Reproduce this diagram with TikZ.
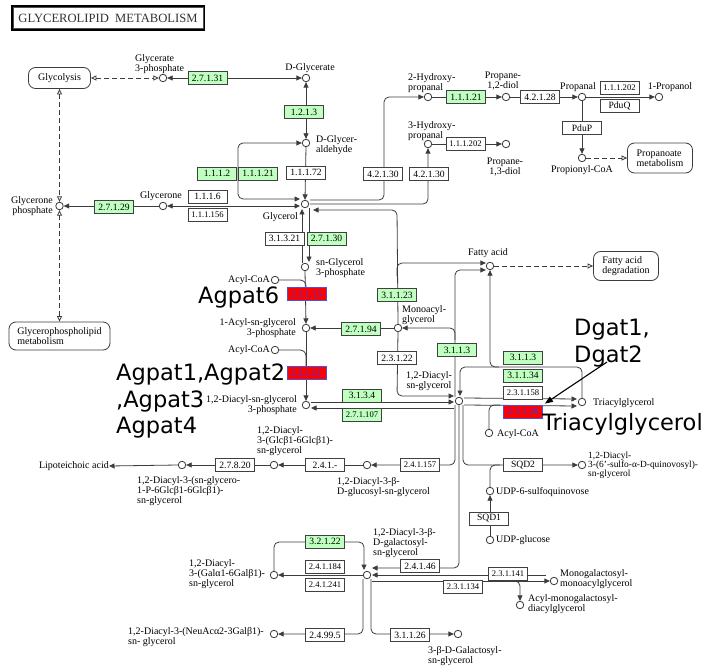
\documentclass[tikz,border=0pt]{standalone}
\usepackage{fontspec}
\setmainfont{Liberation Serif}
\newfontfamily\biglabel{DejaVu Sans}
\usetikzlibrary{arrows.meta,calc}
\definecolor{linec}{HTML}{3C3C3C}
\definecolor{boxc}{HTML}{404040}
\definecolor{kgreen}{HTML}{BFFFBF}
\definecolor{kred}{HTML}{FF0000}
\definecolor{kblue}{HTML}{5050E0}
\definecolor{ktext}{HTML}{3A3AE8}
\newcommand\labfont{\fontsize{10}{9}\selectfont}
\newcommand\labsmall{\fontsize{9.4}{9}\selectfont}
\newcommand\enzfont{\fontsize{9.6}{10}\selectfont}
\newcommand\enzsmall{\fontsize{8.6}{10}\selectfont}
\newcommand\kbigfont{\biglabel\fontsize{22.5}{26.5}\selectfont}
\newcommand\titlefont{\fontsize{12.6}{14}\selectfont}
\begin{document}
\begin{tikzpicture}[x=1pt,y=-1pt,
  kt/.tip={Triangle[length=5.5pt,width=5pt]},
  kto/.tip={Triangle[open,length=5.5pt,width=5pt]},
  ln/.style={draw=linec, line width=0.8pt},
  arr/.style={ln, -{kt}},
  arrtwo/.style={ln, {kt}-{kt}},
  dshtwo/.style={draw=linec, line width=0.8pt, dash pattern=on 5pt off 3pt, {kto}-{kto}},
  dshone/.style={draw=linec, line width=0.8pt, dash pattern=on 5pt off 3pt, -{kto}},
  cpd/.style={circle, draw=linec, fill=white, line width=0.8pt, minimum size=7.5pt, inner sep=0pt},
  enz/.style={draw=boxc, fill=white, line width=0.8pt, minimum width=39pt, minimum height=13pt, inner sep=0pt, font=\enzfont},
  gen/.style={enz, fill=kgreen},
  hit/.style={enz, fill=kred, draw=kblue, text=ktext},
  tight/.style={font=\enzsmall},
  lab/.style={inner sep=0pt, font=\labfont, align=left},
  pbox/.style={draw=linec, line width=0.8pt, rounded corners=7pt, fill=white, inner sep=0pt, font=\labfont, align=left},
  big/.style={inner sep=0pt, font=\kbigfont}]
\useasboundingbox (0,0) rectangle (703,668);
\fill[white] (0,0) rectangle (703,668);

% ---------- title ----------
\node[draw=black, line width=1.5pt, minimum width=192pt, minimum height=24pt, inner sep=0pt, font=\titlefont, text=black!80] (title) at (108,18) {GLYCEROLIPID\ \ METABOLISM};
\draw[black!70, line width=0.5pt] ($(title.south west)+(2,-2)$) rectangle ($(title.north east)+(-2,2)$);

% ---------- pathway boxes ----------
\node[pbox, minimum width=62pt, minimum height=21pt] (glycolysis) at (59.5,78) {Glycolysis};
\node[pbox, minimum width=101pt, minimum height=28pt] (gpl) at (59.5,336) {Glycerophospholipid\\metabolism};
\node[pbox, minimum width=65pt, minimum height=30pt] (propmet) at (660,158) {Propanoate\\metabolism};
\node[pbox, minimum width=65pt, minimum height=29pt] (fadeg) at (626,266) {Fatty acid\\degradation};

% ---------- compounds ----------
\node[cpd] (g3pa) at (163,78) {};
\node[cpd] (dglyc) at (306,78) {};
\node[cpd] (dglyald) at (306,143) {};
\node[cpd] (glyol) at (305,204) {};
\node[cpd] (glycerone) at (163,206) {};
\node[cpd] (dhap) at (59.5,206) {};
\node[cpd] (hpa2) at (428,97) {};
\node[cpd] (pd12) at (506,97) {};
\node[cpd] (propanal) at (582,97) {};
\node[cpd] (propanol) at (659,97) {};
\node[cpd] (propcoa) at (582,158) {};
\node[cpd] (hpa3) at (428,144) {};
\node[cpd] (pd13) at (506,144) {};
\node[cpd] (g3p) at (305,267) {};
\node[cpd] (acoa1) at (275,280) {};
\node[cpd] (lpa) at (306,328) {};
\node[cpd] (acoa2) at (275,350) {};
\node[cpd] (pa) at (306,405) {};
\node[cpd] (mag) at (398,328) {};
\node[cpd] (fa) at (490,266) {};
\node[cpd] (dag) at (459,401) {};
\node[cpd] (tag) at (582,402) {};
\node[cpd] (acoa3) at (489,433) {};
\node[cpd] (glcdag) at (367,465) {};
\node[cpd] (glc2dag) at (274,465) {};
\node[cpd] (ltap) at (182,465) {};
\node[cpd] (sqdg) at (582,465) {};
\node[cpd] (udpsq) at (490,491) {};
\node[cpd] (udpg) at (490,540) {};
\node[cpd] (mgdg) at (367,575) {};
\node[cpd] (dgdg) at (274,575) {};
\node[cpd] (neu) at (274,634) {};
\node[cpd] (galgly) at (458,634) {};
\node[cpd] (mgmg) at (554,581) {};
\node[cpd] (amgdg) at (520,605) {};
\node[lab, anchor=east] (lta) at (109,466) {Lipoteichoic acid};

% ---------- reactions ----------
% glycerate / glyceraldehyde / glycerol
\draw[dshtwo] (glycolysis.east) -- (g3pa.west);
\draw[arrtwo] (g3pa.east) -- (dglyc.west);
\draw[arrtwo] (dglyc.south) -- (dglyald.north);
\draw[arr] (dglyald.south) -- (glyol.north);
\draw[arrtwo, rounded corners=5pt] (dglyald.west) -- (238,143) -- (238,199) -- ($(glyol)+(-5,-5)$);
\draw[arrtwo] (glycerone.east) -- ($(glyol)+(-5,2)$);
\draw[arr] (glycerone.west) -- (dhap.east);
\draw[dshtwo] (glycolysis.south) -- (dhap.north);
\draw[dshtwo] (dhap.south) -- (gpl.north);

% propanal branch
\draw[arr, rounded corners=5pt] ($(glyol)+(5,-4)$) -- (384,200) -- (384,97) -- (hpa2.west);
\draw[arr, rounded corners=5pt] ($(glyol)+(5,0)$) -- (428,204) -- (hpa3.south);
\draw[arr] (hpa2.east) -- (pd12.west);
\draw[arr] (pd12.east) -- (propanal.west);
\draw[arr] (propanal.east) -- (propanol.west);
\draw[arr] (propanal.south) -- (propcoa.north);
\draw[dshone] (propcoa.east) -- (propmet.west);
\draw[arr] (hpa3.east) -- (pd13.west);

% glycerol-3-phosphate and acylation
\draw[arr] ($(g3p)+(-3,-4)$) -- ($(glyol)+(-3,5)$);
\draw[arr] ($(glyol)+(4,4)$) -- ($(g3p)+(4,-5)$);
\draw[arr] (g3p.south) -- (lpa.north);
\draw[ln, rounded corners=6pt] (acoa1.east) -| (306,292);
\draw[arr] (lpa.south) -- (pa.north);
\draw[ln, rounded corners=6pt] (acoa2.east) -| (306,369);
\draw[arr] (mag.west) -- (lpa.east);

% monoacylglycerol lipase
\draw[arr, rounded corners=5pt] (mag.north) -- (397,210) -- ($(glyol)+(8,6)$);
\draw[arr, rounded corners=5pt] (397,276) -- (397,263) -- ($(fa.west)+(0,-3)$);
\draw[dshone] (fa.east) -- (fadeg.west);

% diacylglycerol lipase
\draw[arr, rounded corners=5pt] ($(dag)+(-4,-4)$) -- (455,270) -- ($(fa.west)+(0,4)$);
\draw[arr, rounded corners=5pt] (455,340) -- (455,328) -- (mag.east);

% triacylglycerol
\draw[arr, rounded corners=5pt] (tag.north) -- (582,367) -- (460,367) -- ($(dag)+(1,-5)$);
\draw[arr, rounded corners=5pt] (499,367) -- (490,367) -- (fa.south);
\draw[arr] ($(dag)+(5,-3)$) -- ($(tag)+(-5,-3)$);
\draw[arr] ($(dag)+(5,4)$) -- ($(tag)+(-5,4)$);
\draw[ln, rounded corners=5pt] (acoa3.north) |- (500,405);

% diacylglycerol formation
\draw[arr, rounded corners=5pt] (mag.south) -- (397,396) -- ($(dag)+(-5,-5)$);
\draw[arr] ($(pa)+(5,-3)$) -- ($(dag)+(-5,1)$);
\draw[arr] ($(dag)+(-5,7)$) -- ($(pa)+(5,3)$);

% glucosyl and sulfolipid branch
\draw[arr, rounded corners=5pt] ($(dag)+(-4,4)$) -- (455,465) -- (glcdag.east);
\draw[arr] (glcdag.west) -- (glc2dag.east);
\draw[arr] (glc2dag.west) -- (ltap.east);
\draw[arr] (ltap.west) -- (lta.east);
\draw[arr, rounded corners=5pt] ($(dag)+(4,4)$) -- (463,465) -- (sqdg.west);
\draw[ln, rounded corners=5pt] (udpsq.north) |- (500,465);
\draw[arr] (udpg.north) -- (udpsq.south);

% galactolipids
\draw[arr, rounded corners=5pt] (dag.south) -- (459,568) -- ($(mgdg)+(5,-7)$);
\draw[arr] ($(mgmg)+(-8,-6)$) -- ($(mgdg)+(5,0)$);
\draw[arr] ($(mgdg)+(5,6)$) -- (mgmg.west);
\draw[arr, rounded corners=5pt] (510,581) -- (520,581) -- (amgdg.north);
\draw[arr] (mgdg.west) -- (dgdg.east);
\draw[arr, rounded corners=5pt] (dgdg.north) -- (274,542) -- (364,542) -- ($(mgdg)+(-3,-5)$);
\draw[arr, rounded corners=5pt] ($(mgdg)+(-4,4)$) -- (363,634) -- (neu.east);
\draw[arr, rounded corners=5pt] ($(mgdg)+(4,4)$) -- (371,634) -- (galgly.west);

% ---------- enzymes (drawn over the lines) ----------
\node[gen] (e27131) at (207.5,78) {2.7.1.31};
\node[gen] (e1213) at (304,112) {1.2.1.3};
\node[gen] (e1112) at (217,173.5) {1.1.1.2};
\node[gen] (e11121a) at (258,173.5) {1.1.1.21};
\node[enz] (e11172) at (306,172.5) {1.1.1.72};
\node[enz] (e1116) at (207.5,196.5) {1.1.1.6};
\node[enz,tight] (e111156) at (207.5,215) {1.1.1.156};
\node[gen] (e27129) at (114,207) {2.7.1.29};
\node[enz] (e42130a) at (383,174) {4.2.1.30};
\node[enz] (e42130b) at (429,174) {4.2.1.30};
\node[gen] (e11121b) at (466,97) {1.1.1.21};
\node[enz] (e42128) at (540,97) {4.2.1.28};
\node[enz,tight] (e111202a) at (619.5,87.5) {1.1.1.202};
\node[enz] (pduq) at (619.5,105.5) {PduQ};
\node[enz] (pdup) at (582,128) {PduP};
\node[enz,tight] (e111202b) at (465.5,144) {1.1.1.202};
\node[enz] (e31321) at (284.5,238.5) {3.1.3.21};
\node[gen] (e27130) at (326.5,238.5) {2.7.1.30};
\node[hit] (e23115) at (306.5,294) {2.3.1.15};
\node[hit] (e23151) at (306.5,373) {2.3.1.51};
\node[gen] (e27194) at (361,329) {2.7.1.94};
\node[gen] (e31123) at (397,295) {3.1.1.23};
\node[enz] (e23122) at (397,358) {2.3.1.22};
\node[gen] (e3113a) at (457,350) {3.1.1.3};
\node[gen] (e3134) at (362,395.5) {3.1.3.4};
\node[gen,tight] (e271107) at (362,414.5) {2.7.1.107};
\node[gen] (e3113b) at (523,357.5) {3.1.1.3};
\node[gen] (e31134) at (523,375.5) {3.1.1.34};
\node[enz,tight] (e231158) at (523,392.5) {2.3.1.158};
\node[hit] (e23120) at (523,411.5) {2.3.1.20};
\node[enz,tight] (e241157) at (420,465) {2.4.1.157};
\node[enz] (e241x) at (325,465) {2.4.1.-};
\node[enz] (e27820) at (235,465) {2.7.8.20};
\node[enz] (sqd2) at (523,465) {SQD2};
\node[enz] (sqd1) at (489,518.5) {SQD1};
\node[gen] (e32122) at (325,541.5) {3.2.1.22};
\node[enz,tight] (e241184) at (325,566.5) {2.4.1.184};
\node[enz,tight] (e241241) at (325,584.5) {2.4.1.241};
\node[enz] (e24146) at (420,566) {2.4.1.46};
\node[enz,tight] (e231134) at (463,586.5) {2.3.1.134};
\node[enz,tight] (e231141) at (508,574) {2.3.1.141};
\node[enz] (e24995) at (325,635) {2.4.99.5};
\node[enz] (e31126) at (410,635) {3.1.1.26};

% ---------- compound labels ----------
\node[lab, anchor=west] (l1) at (135,64) {Glycerate\\3-phosphate};
\node[lab] (l2) at (310,68) {D-Glycerate};
\node[lab, anchor=west] (l3) at (316,145) {D-Glycer-\\aldehyde};
\node[lab, anchor=east] (l4) at (298,217) {Glycerol};
\node[lab] (l5) at (161,196) {Glycerone};
\node[lab, anchor=east, align=right] (l6) at (53,206) {Glycerone\\phosphate};
\node[lab, anchor=west] (l7) at (408,83.5) {2-Hydroxy-\\propanal};
\node[lab, anchor=west] (l8) at (408,131) {3-Hydroxy-\\propanal};
\node[lab, align=center] (l9) at (503,81) {Propane-\\1,2-diol};
\node[lab] (l10) at (578,87) {Propanal};
\node[lab] (l11) at (670,87) {1-Propanol};
\node[lab] (l12) at (582,170) {Propionyl-CoA};
\node[lab, align=center] (l13) at (505,167) {Propane-\\1,3-diol};
\node[lab, anchor=west] (l14) at (316,268) {sn-Glycerol\\3-phosphate};
\node[lab, anchor=east] (l15) at (270,280) {Acyl-CoA};
\node[lab, anchor=east, align=right] (l16) at (296,328) {1-Acyl-sn-glycerol\\3-phosphate};
\node[lab, anchor=east] (l17) at (270,350) {Acyl-CoA};
\node[lab, anchor=east, align=right] (l18) at (297,405) {1,2-Diacyl-sn-glycerol\\3-phosphate};
\node[lab, anchor=west] (l19) at (402,315) {Monoacyl-\\glycerol};
\node[lab, align=center] (l20) at (429,381) {1,2-Diacyl-\\sn-glycerol};
\node[lab] (l21) at (488,253) {Fatty acid};
\node[lab, anchor=west] (l22) at (593,403) {Triacylglycerol};
\node[lab, anchor=west] (l23) at (497,434) {Acyl-CoA};
\node[lab, anchor=west] (l24) at (257,441) {1,2-Diacyl-\\3-(Glcβ1-6Glcβ1)-\\sn-glycerol};
\node[lab, anchor=west] (l25) at (137,491) {1,2-Diacyl-3-(sn-glycero-\\1-P-6Glcβ1-6Glcβ1)-\\sn-glycerol};
\node[lab, anchor=west] (l26) at (337,487) {1,2-Diacyl-3-β-\\D-glucosyl-sn-glycerol};
\node[lab, anchor=west, font=\labsmall] (l27) at (588,465) {1,2-Diacyl-\\3-(6'-sulfo-α-D-quinovosyl)-\\sn-glycerol};
\node[lab, anchor=west] (l28) at (496,492) {UDP-6-sulfoquinovose};
\node[lab, anchor=west] (l29) at (496,540) {UDP-glucose};
\node[lab, anchor=west] (l30) at (373,543) {1,2-Diacyl-3-β-\\D-galactosyl-\\sn-glycerol};
\node[lab, anchor=west] (l31) at (189,574) {1,2-Diacyl-\\3-(Galα1-6Galβ1)-\\sn-glycerol};
\node[lab, anchor=west] (l32) at (128,637) {1,2-Diacyl-3-(NeuAcα2-3Galβ1)-\\sn- glycerol};
\node[lab, anchor=west] (l33) at (428,656) {3-β-D-Galactosyl-\\sn-glycerol};
\node[lab, anchor=west] (l34) at (560,579) {Monogalactosyl-\\monoacylglycerol};
\node[lab, anchor=west] (l35) at (528,604) {Acyl-monogalactosyl-\\diacylglycerol};

% ---------- gene annotations ----------
\node[big, anchor=base west] (agpat6) at (198,303) {Agpat6};
\node[big, anchor=north west, align=left] (agpat1) at (116,364) {Agpat1,Agpat2\\,Agpat3\\Agpat4};
\node[big, anchor=north west, align=left] (dgat) at (574,319) {Dgat1,\\Dgat2};
\node[big, anchor=base west] (tagbig) at (542,430) {Triacylglycerol};
\coordinate (dgtail) at (607,362);
\draw[black, line width=1.1pt, -{Triangle[length=8pt,width=6pt]}] (dgtail) -- ($(e23120.north east)+(2,-1)$);
\end{tikzpicture}
\end{document}
